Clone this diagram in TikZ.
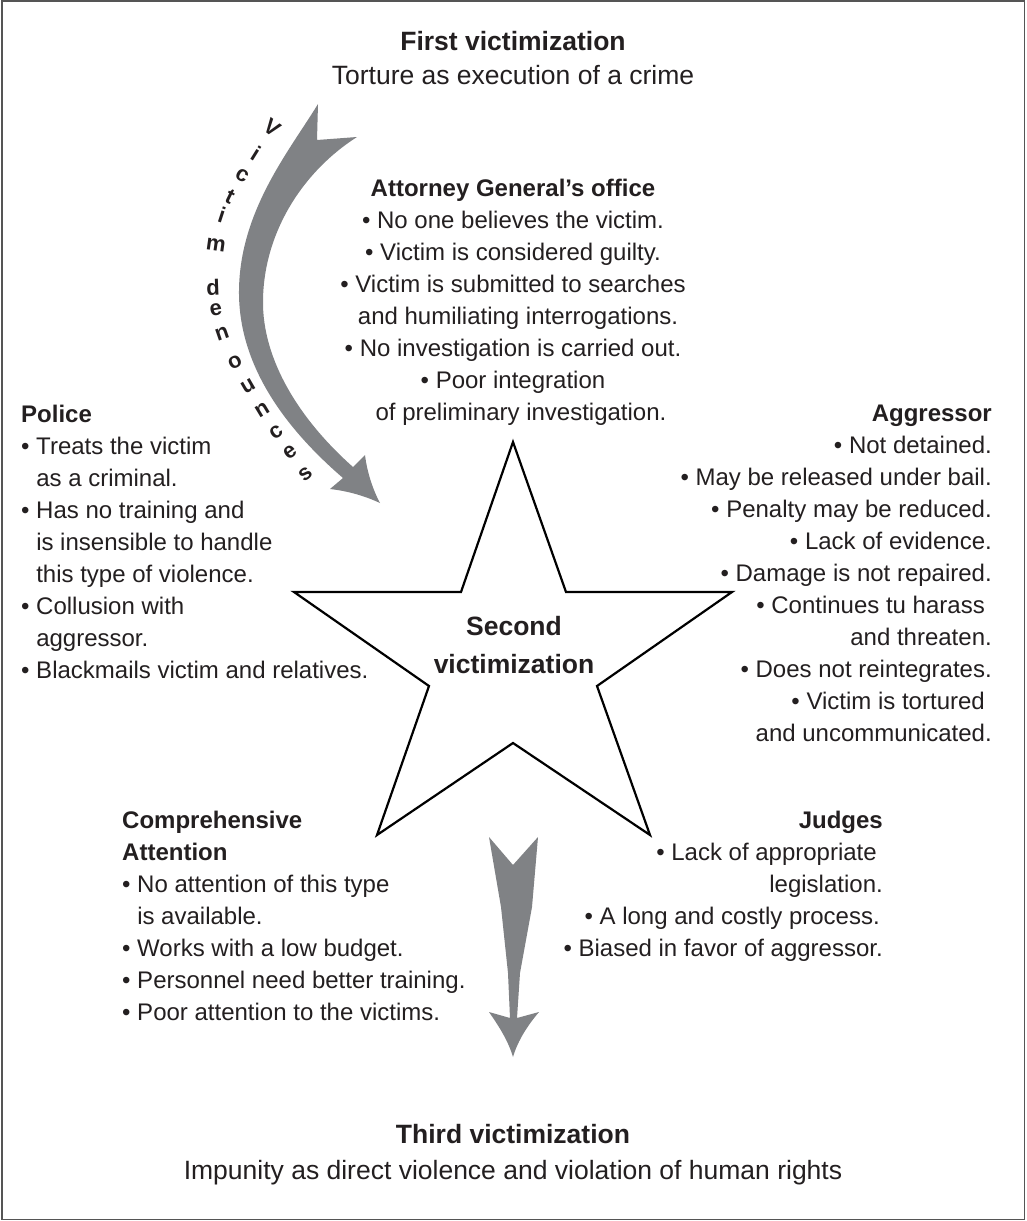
\documentclass[tikz,border=0pt]{standalone}
\usepackage{fontspec}
\setmainfont{Liberation Sans}
\definecolor{txt}{RGB}{35,31,32}
\definecolor{agray}{RGB}{128,130,133}
\definecolor{framec}{RGB}{85,85,85}
\newcommand\myind{\hphantom{•\ }}
\tikzset{
  ttl/.style={inner sep=0pt, text=txt, anchor=base, font=\fontsize{26.5}{34}\selectfont\bfseries},
  sub/.style={inner sep=0pt, text=txt, anchor=base, font=\fontsize{26.5}{34}\selectfont},
  body/.style={inner sep=0pt, text=txt, font=\fontsize{24}{32}\selectfont},
  lett/.style={inner sep=0pt, text=txt, font=\fontsize{22}{26}\selectfont\bfseries},
  starline/.style={draw=black, line width=2.2pt, line join=miter, fill=white},
  bigarrow/.style={fill=agray}
}
\begin{document}
\begin{tikzpicture}[x=1pt,y=-1pt]
\useasboundingbox (0,0) rectangle (1026,1221);
\fill[white] (0,0) rectangle (1026,1221);
\draw[framec, line width=1.8pt] (2,1) rectangle (1024.5,1219.5);

% titles
\node[ttl] (first) at (513,50) {First victimization};
\node[sub] (firstsub) at (513,84) {Torture as execution of a crime};
\node[ttl] (third) at (513,1143) {Third victimization};
\node[sub] (thirdsub) at (513,1179) {Impunity as direct violence and violation of human rights};

% star
\draw[starline] (513,442) -- (566,592) -- (732,592) -- (597,686) -- (650,835)
  -- (513,743) -- (377,835) -- (429,686) -- (294,592) -- (461,592) -- cycle;
\node[body, anchor=base] (second) at (514,635)
  {\fontsize{26.5}{38}\selectfont\bfseries\begin{tabular}[t]{@{}c@{}}Second\\victimization\end{tabular}};

% curved arrow
\fill[bigarrow] (318,104) .. controls (290,150) and (240,210) .. (239,290)
  .. controls (238,365) and (285,428) .. (343,478) -- (330,489)
  .. controls (348,491) and (365,496) .. (380,503)
  .. controls (373,490) and (367,472) .. (365,455) -- (353,467)
  .. controls (300,420) and (262,360) .. (263,300)
  .. controls (264,230) and (305,170) .. (357,137) -- (317,140) -- cycle;

\foreach \ch/\px/\py/\r [count=\k] in {V/272/128/-36, i/256/153/-32, c/242/176/-30, t/230/197/-26,
  i/222/215/-18, m/216/245/-8, d/213/287/2, e/216/310/10, n/222/334/19, o/235/362/27,
  u/248/386/30, n/262/410/31, c/276/432/35, e/290/452/36, s/306/474/38}
  \node[lett, rotate=\r] (vd\k) at (\px,\py) {\ch};

% straight arrow
\fill[bigarrow] (489,837) -- (513,865) -- (538,837) -- (532,907) -- (520,973) -- (517,1018)
  -- (539,1012) .. controls (528,1025) and (518,1040) .. (513,1057)
  .. controls (508,1040) and (498,1025) .. (489,1012)
  -- (510,1018) -- (508,973) -- (501,907) -- cycle;

% text blocks
\node[body, anchor=base] (attorney) at (513,196) {\begin{tabular}[t]{@{}c@{}}
\textbf{Attorney General’s office}\\
• No one believes the victim.\\
• Victim is considered guilty.\\
• Victim is submitted to searches\\
\kern10pt and humiliating interrogations.\\
• No investigation is carried out.\\
• Poor integration\\
\kern16pt of preliminary investigation.
\end{tabular}};

\node[body, anchor=base west] (police) at (21,422) {\begin{tabular}[t]{@{}l@{}}
\textbf{Police}\\
• Treats the victim\\
\myind as a criminal.\\
• Has no training and\\
\myind is insensible to handle\\
\myind this type of violence.\\
• Collusion with\\
\myind aggressor.\\
• Blackmails victim and relatives.
\end{tabular}};

\node[body, anchor=base east] (aggressor) at (992,421) {\begin{tabular}[t]{@{}r@{}}
\textbf{Aggressor}\\
• Not detained.\\
• May be released under bail.\\
• Penalty may be reduced.\\
• Lack of evidence.\\
• Damage is not repaired.\\
• Continues tu harass\kern7pt\\
and threaten.\\
• Does not reintegrates.\\
• Victim is tortured\kern7pt\\
and uncommunicated.
\end{tabular}};

\node[body, anchor=base west] (comprehensive) at (122,828) {\begin{tabular}[t]{@{}l@{}}
\textbf{Comprehensive}\\
\textbf{Attention}\\
• No attention of this type\\
\myind is available.\\
• Works with a low budget.\\
• Personnel need better training.\\
• Poor attention to the victims.
\end{tabular}};

\node[body, anchor=base east] (judges) at (883,828) {\begin{tabular}[t]{@{}r@{}}
\textbf{Judges}\\
• Lack of appropriate\kern6pt\\
legislation.\\
• A long and costly process.\kern3pt\\
• Biased in favor of aggressor.
\end{tabular}};
\end{tikzpicture}
\end{document}
